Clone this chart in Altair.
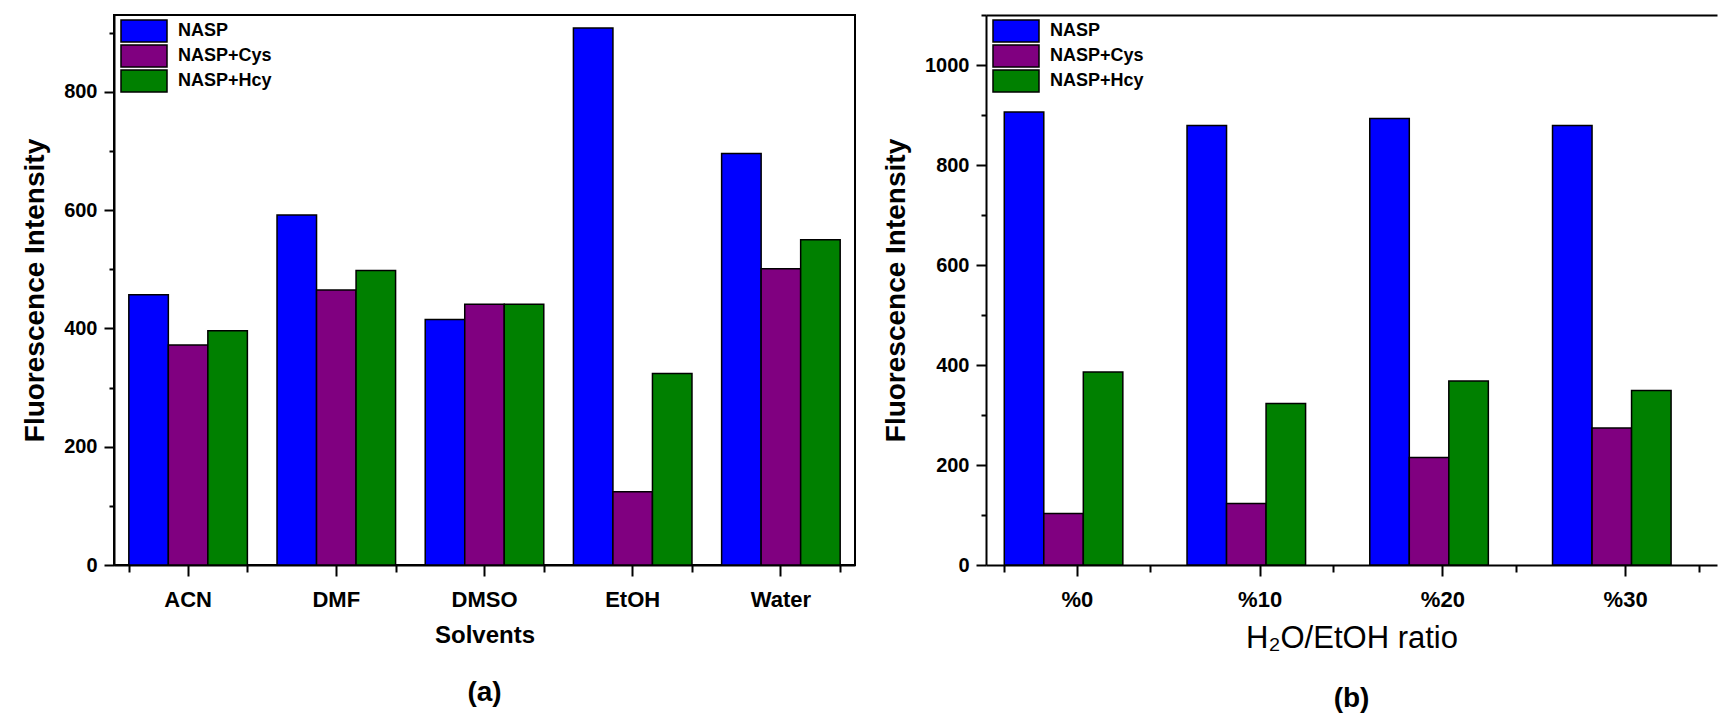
import altair as alt
import pandas as pd

series = ["NASP", "NASP+Cys", "NASP+Hcy"]
colors = ["#0000FF", "#800080", "#008000"]

solvents = ["ACN", "DMF", "DMSO", "EtOH", "Water"]
solv_nasp = [457, 592, 415, 908, 696]
solv_cys = [372, 465, 441, 124, 501]
solv_hcy = [396, 498, 441, 324, 550]

ratios = ["%0", "%10", "%20", "%30"]
ratio_nasp = [906, 879, 893, 879]
ratio_cys = [103, 123, 215, 274]
ratio_hcy = [386, 323, 368, 349]

FONT = "Liberation Sans"


def make_df(cats, a, b, c):
    rows = []
    for i, cat in enumerate(cats):
        for s, vals in zip(series, (a, b, c)):
            rows.append({"cat": cat, "series": s, "value": vals[i]})
    return pd.DataFrame(rows)


def panel(df, cats, ymax, xtitle, xtitle_weight, xtitle_size, ptitle, width, frame):
    base = alt.Chart(df)
    x_main = alt.X(
        "cat:N", sort=cats,
        scale=alt.Scale(paddingInner=0.2, paddingOuter=0.1),
        axis=alt.Axis(orient="bottom", title=xtitle, labelAngle=0, tickSize=11,
                      labelFontSize=22, labelPadding=13, titlePadding=13,
                      titleFontSize=xtitle_size, titleFontWeight=xtitle_weight, grid=False),
    )
    bars = base.mark_bar(stroke="black", strokeWidth=1.5).encode(
        x=x_main,
        xOffset=alt.XOffset("series:N", sort=series,
                            scale=alt.Scale(paddingInner=0, paddingOuter=0)),
        y=alt.Y(
            "value:Q", stack=False,
            scale=alt.Scale(domain=[0, ymax], nice=False, zero=True),
            axis=alt.Axis(
                title="Fluorescence Intensity",
                values=list(range(0, ymax + 1, 100)),
                format="d",
                labelExpr="datum.value % 200 === 0 ? datum.label : ''",
                tickSize={"condition": {"test": "datum.value % 200 === 0", "value": 10}, "value": 5},
                labelFontSize=20, titleFontSize=28,
                labelPadding=7, titlePadding=14, grid=False,
            ),
        ),
        color=alt.Color(
            "series:N", sort=series,
            scale=alt.Scale(domain=series, range=colors),
            legend=alt.Legend(
                orient="none", legendX=21, legendY=7, title=None, padding=0,
                symbolType="M-4,-1.92H4V1.92H-4Z", symbolSize=132.25,
                symbolStrokeColor="black", symbolStrokeWidth=1.5,
                symbolOpacity=1,
                labelFont=FONT, labelFontSize=18, labelFontWeight="bold",
                labelColor="black", labelOffset=25, rowPadding=-5,
            ),
        ),
    )
    edges = base.mark_bar(opacity=0, clip=True).encode(
        x=alt.X("cat:N", sort=cats,
                axis=alt.Axis(orient="bottom", tickBand="extent", labels=False,
                              domain=False, tickSize=7, title=None, grid=False)),
        y=alt.Y("value:Q", stack=False, axis=None),
    )
    layers = [bars, edges]
    if not frame:
        top = base.mark_bar(opacity=0, clip=True).encode(
            x=alt.X("cat:N", sort=cats,
                    axis=alt.Axis(orient="top", domain=True, ticks=False, labels=False,
                                  title=None, grid=False)),
            y=alt.Y("value:Q", stack=False, axis=None),
        )
        layers.append(top)
    ch = alt.layer(*layers).resolve_axis(x="independent", y="independent").properties(
        width=width, height=550,
        title=alt.Title(ptitle, orient="bottom", font=FONT, fontSize=28,
                        fontWeight="bold", color="black", offset=32),
    )
    if frame:
        ch = ch.properties(view=alt.ViewBackground(stroke="black", strokeWidth=2))
    else:
        ch = ch.properties(view=alt.ViewBackground(stroke="transparent"))
    return ch


left = panel(make_df(solvents, solv_nasp, solv_cys, solv_hcy), solvents, 930,
             "Solvents", "bold", 24, "(a)", 741, True)
right = panel(make_df(ratios, ratio_nasp, ratio_cys, ratio_hcy), ratios, 1100,
              "H\u2082O/EtOH ratio", "normal", 31, "(b)", 731, False)

chart = (
    alt.hconcat(left, right, spacing=26)
    .resolve_scale(color="independent")
    .resolve_legend(color="independent")
    .properties(padding={"left": 20, "top": 13, "right": 0, "bottom": 2},
                background="white")
    .configure_axis(
        labelFont=FONT, labelFontWeight="bold", labelColor="black",
        titleFont=FONT, titleFontWeight="bold", titleColor="black",
        domainColor="black", domainWidth=2, tickColor="black", tickWidth=2,
    )
)

chart.save("out.html", embed_options={"renderer": "svg", "actions": False})
